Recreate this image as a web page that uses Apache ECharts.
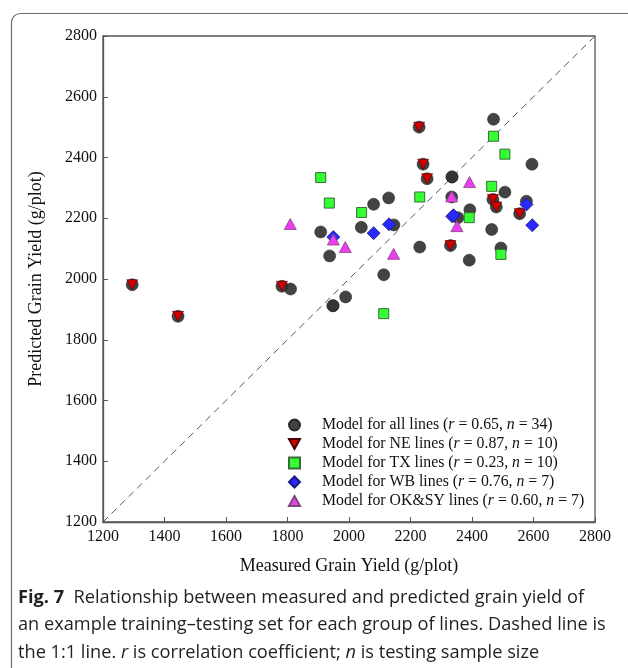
<!DOCTYPE html>
<html><head><meta charset="utf-8">
<script src="https://cdn.jsdelivr.net/npm/echarts@6/dist/echarts.min.js"></script>
<style>html,body{margin:0;padding:0;background:#fff}#c{width:628px;height:668px}</style>
</head><body><div id="c"></div>
<script>
// ---- data ----
var xTicks = [1200,1400,1600,1800,2000,2200,2400,2600,2800];
var yTicks = [1200,1400,1600,1800,2000,2200,2400,2600,2800];
var allMeasured  = [2470,2595,2335,2335,2507,2334,2393,2577,2354,2464,2494,2391,2230,2113,1989,1948,1948,1908,1937,2040,2080,2129,2146,1810,
                    1295,1444,1782,2228,2241,2254,2468,2479,2555,2330];
var allPredicted = [2526,2378,2336,2336,2286,2270,2228,2256,2202,2163,2102,2062,2105,2014,1941,1912,1912,2155,2076,2170,2246,2267,2178,1967,
                    1981,1877,1976,2500,2378,2330,2262,2237,2215,2110];
var neMeasured   = [1295,1444,1782,2228,2241,2254,2468,2479,2555,2330];
var nePredicted  = [1981,1877,1976,2500,2378,2330,2262,2237,2215,2110];
var txMeasured   = [2470,2507,1908,1936,2041,2230,2464,2391,2494,2113];
var txPredicted  = [2470,2411,2334,2250,2219,2270,2305,2202,2081,1886];
var wbMeasured   = [1949,2080,2130,2336,2577,2596,2340];
var wbPredicted  = [2138,2151,2180,2206,2245,2177,2210];
var okMeasured   = [2392,2334,2351,2145,1988,1949,1809];
var okPredicted  = [2319,2272,2174,2083,2105,2130,2181];
var oneToOne     = [[1200,1200],[2800,2800]];
var legendNames  = ['all','NE','TX','WB','OK&SY'];
var legendR      = ['0.65','0.87','0.23','0.76','0.60'];
var legendN      = ['34','10','10','7','7'];

function pairs(xs, ys){ return xs.map(function(v,i){ return [v, ys[i]]; }); }
var seriesNames = legendNames.map(function(g){ return 'Model for ' + g + ' lines'; });
var downTri = 'path://M0,0 L10,0 L5,9 Z';
var upTri = 'path://M5,0 L10,9 L0,9 Z';
var serif = '"Liberation Serif", "Times New Roman", serif';
var sans = '"Open Sans", "Noto Sans", sans-serif';

var chart = echarts.init(document.getElementById('c'), null, {renderer:'canvas'});
var legendMap = {};
legendNames.forEach(function(g,i){ legendMap[seriesNames[i]] = i; });

chart.setOption({
  animation:false,
  backgroundColor:'#fff',
  textStyle:{fontFamily:serif},
  graphic:[
    {type:'rect', shape:{x:11.5,y:13.5,width:700,height:720,r:9}, style:{fill:'none',stroke:'#6b6b6b',lineWidth:1.2}, z:-10},
    {type:'text', left:18, top:584, style:{
      text:'{b|Fig. 7}  Relationship between measured and predicted grain yield of\nan example training–testing set for each group of lines. Dashed line is\nthe 1:1 line. {i|r} is correlation coefficient; {i|n} is testing sample size',
      font:'18.2px ' + sans, fill:'#231f20', lineHeight:27.5,
      rich:{
        b:{fontWeight:'bold', fontFamily:sans, fontSize:18.2, fill:'#231f20'},
        i:{fontStyle:'italic', fontFamily:sans, fontSize:18.2, fill:'#231f20'}
      }
    }}
  ],
  grid:{left:103, top:36, right:33, bottom:146, show:true, borderColor:'#555', borderWidth:1.3, backgroundColor:'transparent'},
  legend:{
    orient:'vertical', left:283, top:412, itemGap:3, itemWidth:11, itemHeight:11,
    selectedMode:false,
    data:[
      {name:seriesNames[0], icon:'circle'},
      {name:seriesNames[1], icon:downTri},
      {name:seriesNames[2], icon:'rect'},
      {name:seriesNames[3], icon:'diamond'},
      {name:seriesNames[4], icon:upTri}
    ],
    formatter:function(name){
      var i = legendMap[name];
      return '{t|Model for ' + legendNames[i] + ' lines (}{i|r}{t| = ' + legendR[i] + ', }{i|n}{t| = ' + legendN[i] + ')}';
    },
    textStyle:{
      padding:[0,0,0,17],
      rich:{
        t:{fontFamily:serif, fontSize:15.8, color:'#111', lineHeight:15.3},
        i:{fontFamily:serif, fontSize:15.8, fontStyle:'italic', color:'#111', lineHeight:15.3}
      }
    }
  },
  xAxis:{
    type:'value', min:1200, max:2800, interval:200,
    name:'Measured Grain Yield (g/plot)', nameLocation:'middle', nameGap:35,
    nameTextStyle:{fontFamily:serif, fontSize:18, color:'#111'},
    axisLine:{show:true, onZero:false, lineStyle:{color:'#555', width:1.3}},
    axisTick:{show:true, inside:true, length:5, lineStyle:{color:'#555'}},
    axisLabel:{fontFamily:serif, fontSize:16, color:'#111', margin:7,
      formatter:function(v){ return xTicks.indexOf(v) >= 0 ? String(v) : ''; }},
    splitLine:{show:false}
  },
  yAxis:{
    type:'value', min:1200, max:2800, interval:200,
    name:'Predicted Grain Yield (g/plot)', nameLocation:'middle', nameGap:58,
    nameTextStyle:{fontFamily:serif, fontSize:18, color:'#111'},
    axisLine:{show:true, onZero:false, lineStyle:{color:'#555', width:1.3}},
    axisTick:{show:true, inside:true, length:5, lineStyle:{color:'#555'}},
    axisLabel:{fontFamily:serif, fontSize:16, color:'#111', margin:6,
      formatter:function(v){ return yTicks.indexOf(v) >= 0 ? String(v) : ''; }},
    splitLine:{show:false}
  },
  series:[
    {type:'line', data:oneToOne, symbol:'none', silent:true, z:1,
     lineStyle:{color:'#555', width:1, type:[7,5]}},
    {name:seriesNames[0], type:'scatter', data:pairs(allMeasured, allPredicted), symbol:'circle', symbolSize:12, z:2,
     itemStyle:{color:'#333333', borderColor:'#222', borderWidth:0.6, opacity:0.92}},
    {name:seriesNames[1], type:'scatter', data:pairs(neMeasured, nePredicted), symbol:downTri, symbolSize:[11,10], z:3,
     itemStyle:{color:'#d10000', borderColor:'#4a0000', borderWidth:0.6, opacity:1}},
    {name:seriesNames[2], type:'scatter', data:pairs(txMeasured, txPredicted), symbol:'rect', symbolSize:10, z:4,
     itemStyle:{color:'#33ff33', borderColor:'#3a6b3a', borderWidth:1, opacity:1}},
    {name:seriesNames[3], type:'scatter', data:pairs(wbMeasured, wbPredicted), symbol:'diamond', symbolSize:13, z:5,
     itemStyle:{color:'#2a2aff', borderColor:'#1a1a7a', borderWidth:0.8, opacity:1}},
    {name:seriesNames[4], type:'scatter', data:pairs(okMeasured, okPredicted), symbol:upTri, symbolSize:[12,11], z:6,
     itemStyle:{color:'#f03cf0', borderColor:'#7a4a7a', borderWidth:0.8, opacity:1}}
  ]
});
</script>
</body></html>
